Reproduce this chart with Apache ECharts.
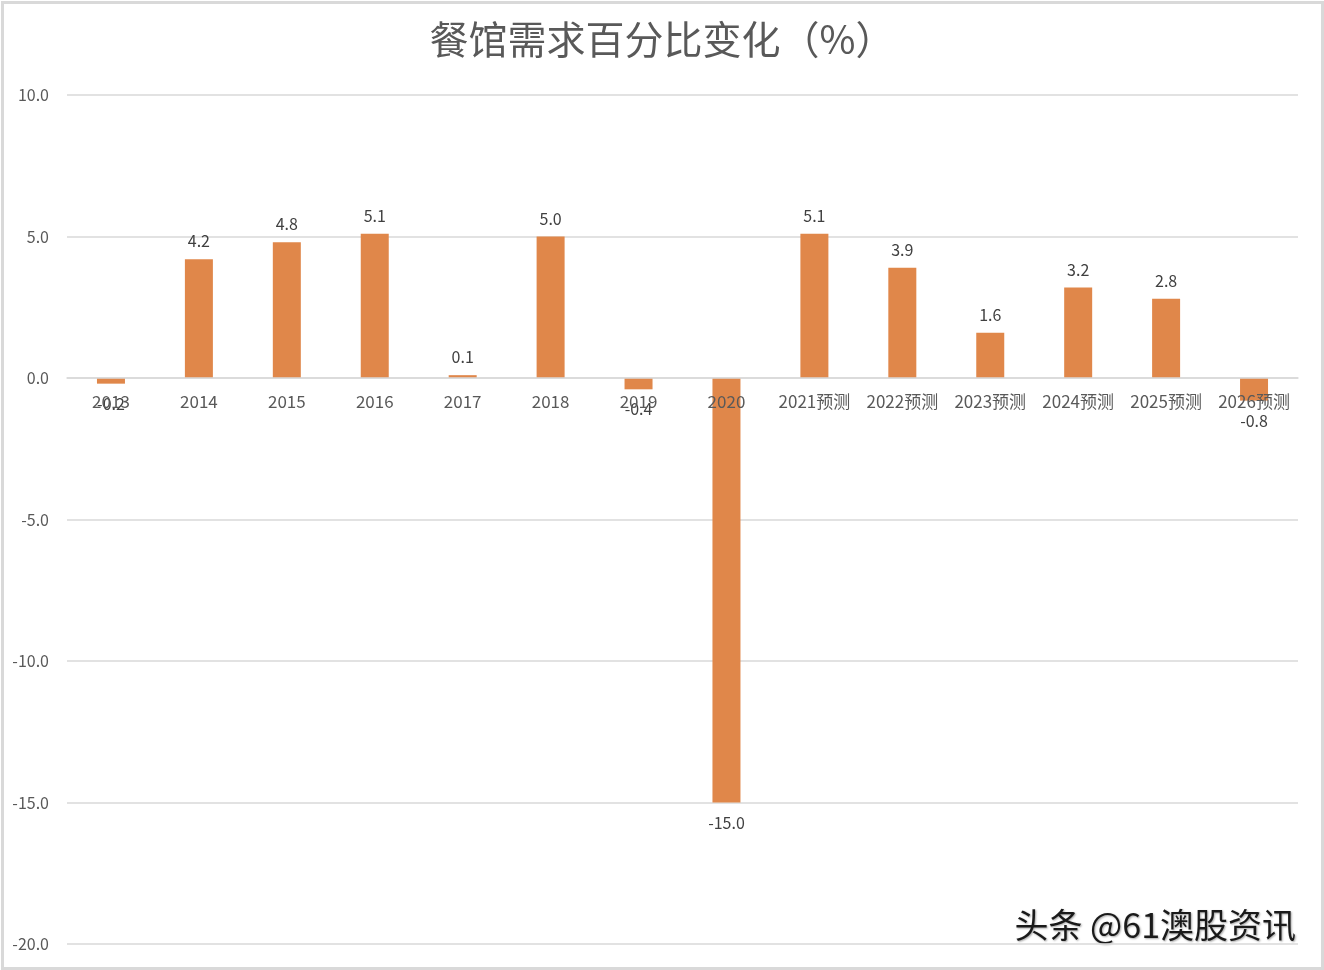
<!DOCTYPE html>
<html>
<head>
<meta charset="utf-8">
<script src="https://cdn.jsdelivr.net/npm/echarts@6/dist/echarts.min.js"></script>
<style>
html,body{margin:0;padding:0;background:#fff;}
#chart{width:1324px;height:970px;}
</style>
</head>
<body>
<div id="chart"></div>
<script>
const categories = ['2013','2014','2015','2016','2017','2018','2019','2020','2021预测','2022预测','2023预测','2024预测','2025预测','2026预测'];
const values = [-0.2, 4.2, 4.8, 5.1, 0.1, 5.0, -0.4, -15.0, 5.1, 3.9, 1.6, 3.2, 2.8, -0.8];
const titleText = '餐馆需求百分比变化（%）';
const watermark = '头条 @61澳股资讯';

const chart = echarts.init(document.getElementById('chart'));
const font = '"Noto Sans CJK SC", "Noto Sans", sans-serif';
chart.setOption({
  backgroundColor: '#fff',
  animation: false,
  title: {
    text: titleText,
    left: 'center',
    top: 15,
    textStyle: { fontSize: 39, fontWeight: 'normal', color: '#595959', fontFamily: font }
  },
  grid: { left: 67, right: 26, top: 95, bottom: 26, containLabel: false, outerBoundsMode: 'none' },
  xAxis: {
    type: 'category',
    data: categories,
    z: 5,
    axisLine: { onZero: true, onZeroAxisIndex: 0, lineStyle: { color: '#d9d9d9', width: 1.5 } },
    axisTick: { show: false },
    axisLabel: { color: '#595959', fontSize: 17, margin: 14, interval: 0, fontFamily: font }
  },
  yAxis: {
    type: 'value',
    min: -20, max: 10, interval: 5,
    axisLine: { show: false },
    axisTick: { show: false },
    splitLine: { lineStyle: { color: '#d9d9d9', width: 1.5 } },
    axisLabel: { color: '#595959', fontSize: 16, margin: 18, fontFamily: font,
      formatter: v => v.toFixed(1) }
  },
  series: [{
    type: 'bar',
    z: 2,
    data: values.map(v => ({
      value: v,
      label: { position: v >= 0 ? 'top' : 'bottom', distance: v >= 0 ? 10 : 12 }
    })),
    barWidth: 28,
    itemStyle: { color: '#E0874A' },
    label: {
      show: true,
      color: '#404040',
      fontSize: 16,
      fontFamily: font,
      formatter: p => Number(p.value).toFixed(1)
    }
  }],
  graphic: [
    { type: 'rect', left: 0, top: 0, shape: { x: 1, y: 1, width: 1320, height: 966 },
      style: { fill: 'none', stroke: '#d9d9d9', lineWidth: 3 }, silent: true },
    { type: 'text', right: 28, top: 908,
      style: { text: watermark, fontSize: 34, fill: '#1a1a1a', fontFamily: font,
        textShadowColor: 'rgba(0,0,0,0.35)', textShadowBlur: 2, textShadowOffsetX: 1, textShadowOffsetY: 1 } }
  ]
});
// Place the category labels just below the zero line (derived from the value scale)
const zeroY = chart.convertToPixel({ yAxisIndex: 0 }, 0);
const bottomY = chart.convertToPixel({ yAxisIndex: 0 }, -20);
if (Math.abs(bottomY - zeroY) > 5) {
  chart.setOption({ xAxis: { axisLabel: { margin: zeroY - bottomY + 15 } } });
}
</script>
</body>
</html>
